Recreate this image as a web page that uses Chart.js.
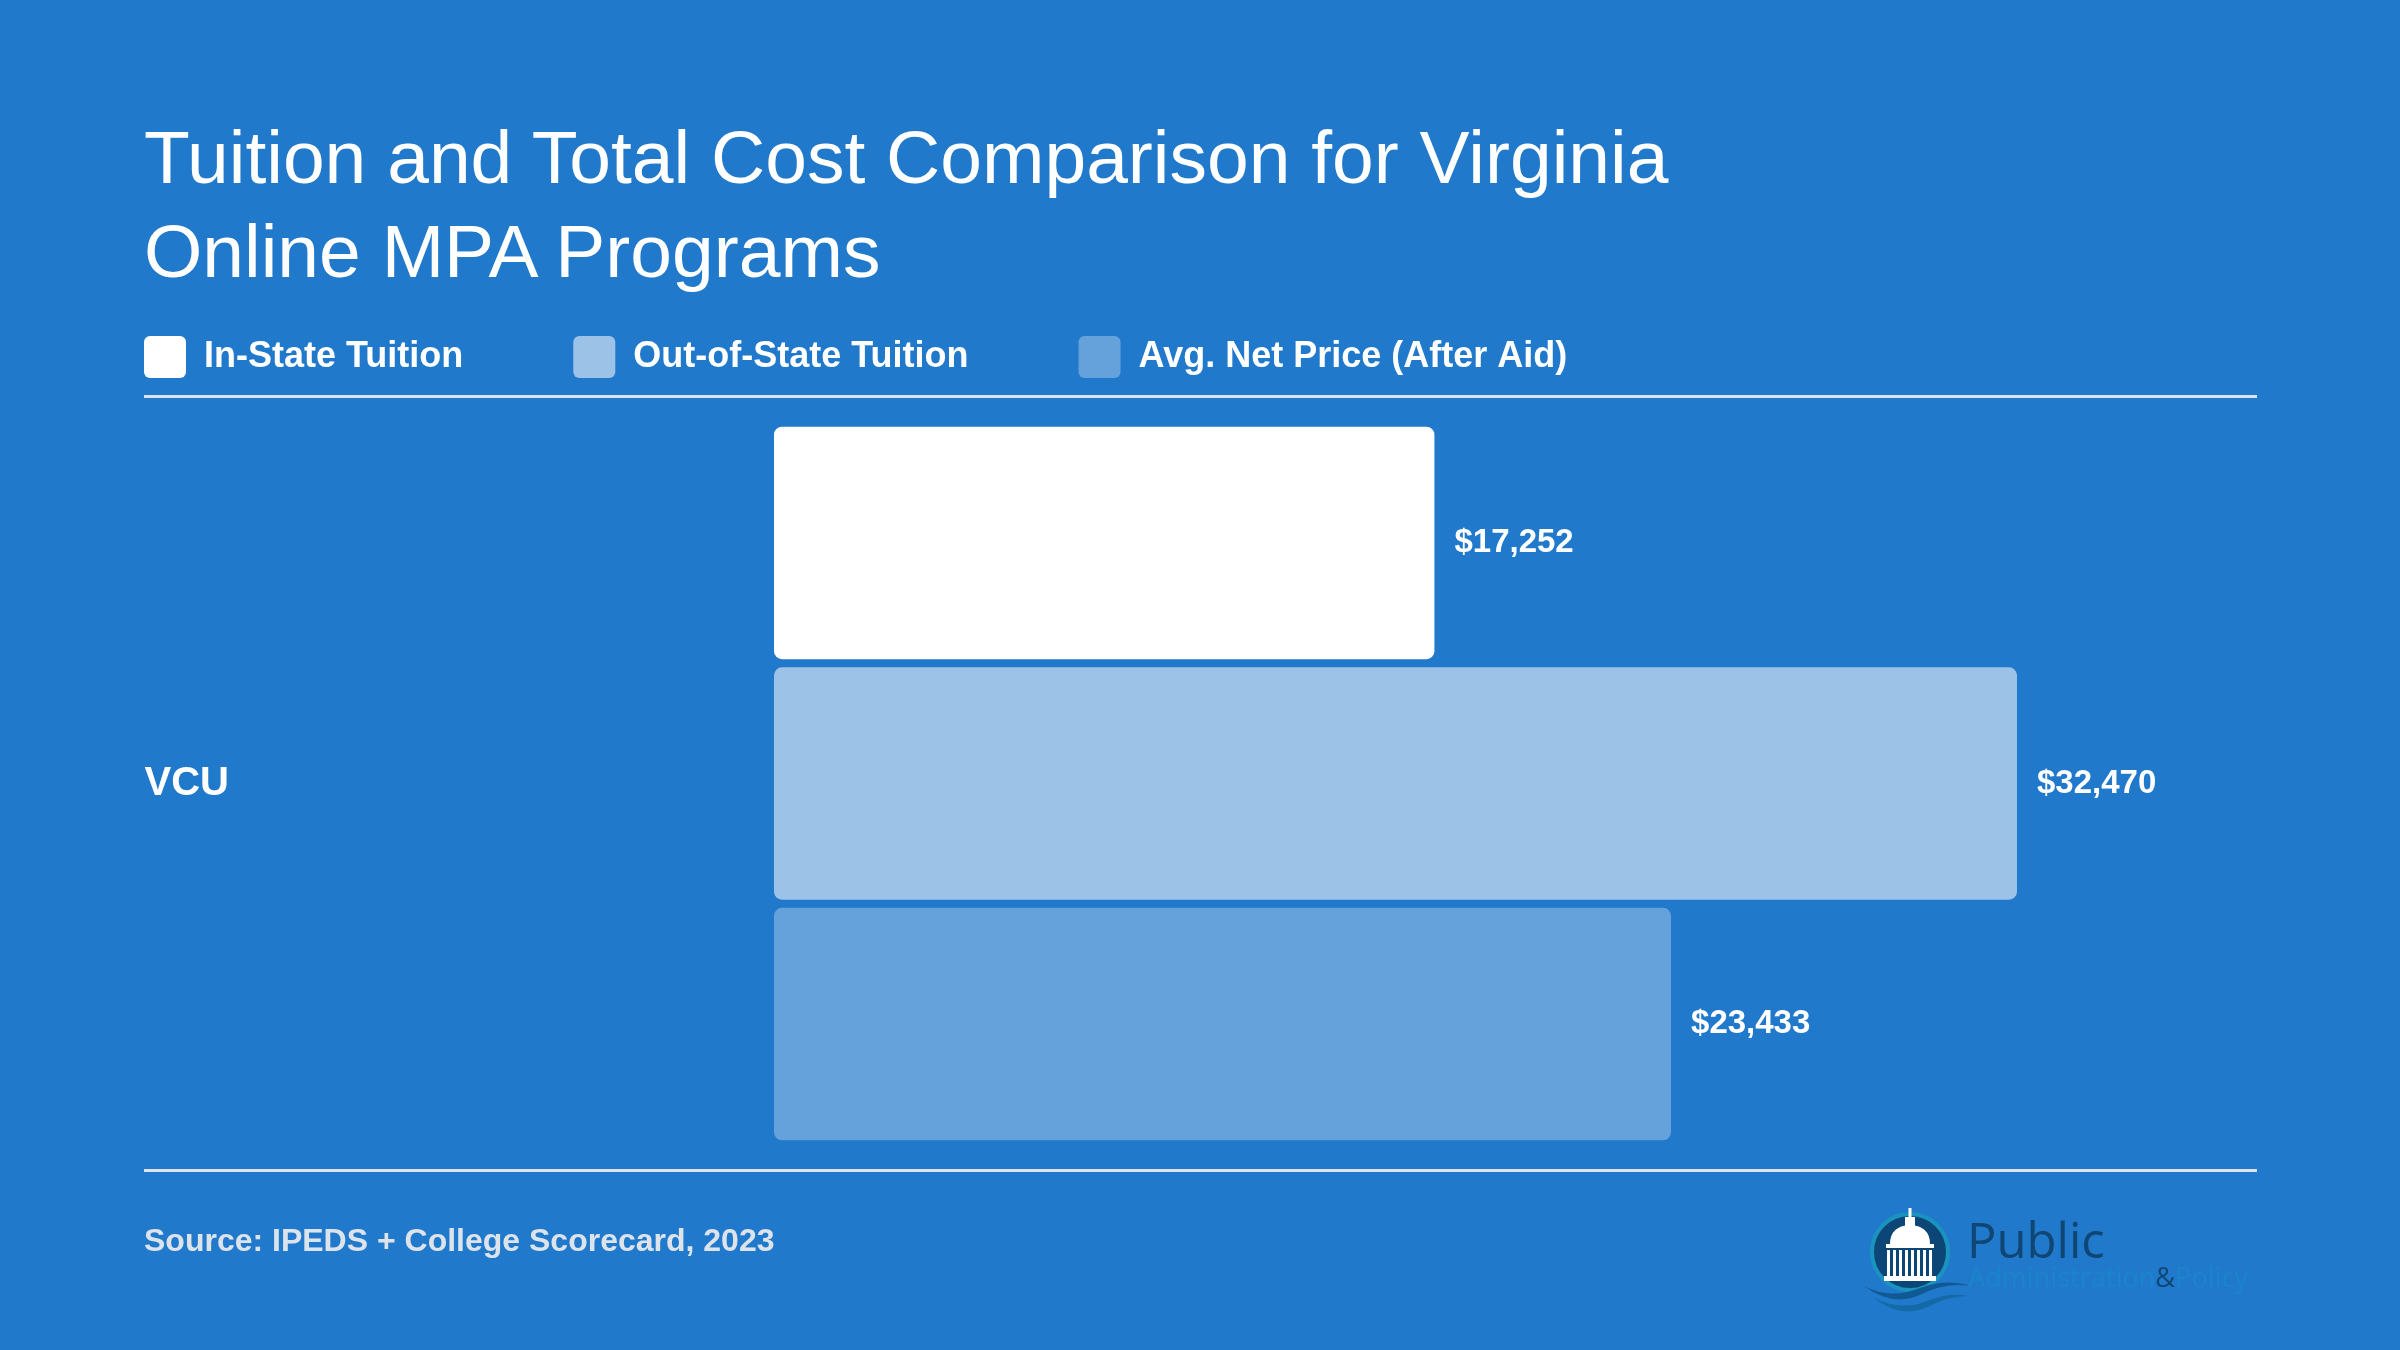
<!DOCTYPE html>
<html>
<head>
<meta charset="utf-8">
<title>Tuition and Total Cost Comparison for Virginia Online MPA Programs</title>
<script src="https://cdn.jsdelivr.net/npm/chart.js@4.4.1/dist/chart.umd.min.js"></script>
<style>
  html, body { margin: 0; padding: 0; background: #2179cc; }
  body {
    width: 2400px; height: 1350px; position: relative; overflow: hidden;
    font-family: "Liberation Sans", Arial, sans-serif;
  }
  #costChart { position: absolute; left: 0; top: 0; }
  h1 {
    position: absolute; left: 144px; top: 110px; margin: 0;
    font-size: 75px; line-height: 94px; font-weight: normal; color: #fff;
  }
  .source {
    position: absolute; left: 144px; top: 1220px; margin: 0;
    font-size: 32px; line-height: 40px; font-weight: bold; color: #dde3ea;
  }
  .logo { position: absolute; left: 1850px; top: 1190px; }
</style>
</head>
<body>
<h1>Tuition and Total Cost Comparison for Virginia<br>Online MPA Programs</h1>
<canvas id="costChart" width="2400" height="1350"></canvas>
<p class="source">Source: IPEDS + College Scorecard, 2023</p>

<svg class="logo" width="420" height="140" viewBox="0 0 420 140">
  <circle cx="60" cy="62" r="38" fill="#0b4676" stroke="#1a93bf" stroke-width="4"/>
  <!-- capitol -->
  <rect x="58.5" y="18" width="3" height="10" fill="#fff"/>
  <rect x="55" y="27" width="10" height="9" fill="#fff"/>
  <path d="M40 54 Q40 36 60 35 Q80 36 80 54 Z" fill="#fff"/>
  <rect x="36" y="54" width="48" height="4" fill="#fff"/>
  <g fill="#fff">
    <rect x="37" y="60" width="3" height="26"/>
    <rect x="43" y="60" width="3" height="26"/>
    <rect x="49" y="60" width="3" height="26"/>
    <rect x="55" y="60" width="3" height="26"/>
    <rect x="61" y="60" width="3" height="26"/>
    <rect x="67" y="60" width="3" height="26"/>
    <rect x="73" y="60" width="3" height="26"/>
    <rect x="79" y="60" width="3" height="26"/>
  </g>
  <rect x="34" y="86" width="52" height="5" fill="#fff"/>
  <!-- waves -->
  <path d="M14 96 Q40 110 70 98 Q95 88 122 96 Q95 92 72 104 Q44 118 14 96 Z" fill="#0f5a92"/>
  <path d="M24 108 Q52 122 80 110 Q100 102 118 106 Q98 106 80 116 Q52 130 24 108 Z" fill="#136aa6"/>
  <text x="117" y="68" font-family="'Open Sans', sans-serif" font-size="49" fill="#0f4673">Public</text>
  <text x="118" y="97" font-family="'Open Sans', sans-serif" font-size="28" textLength="280" lengthAdjust="spacingAndGlyphs"><tspan fill="#1a84cc">Administration</tspan><tspan fill="#0f4673">&amp;</tspan><tspan fill="#1a84cc">Policy</tspan></text>
</svg>

<script>
const categories = ['VCU'];
const seriesNames = ['In-State Tuition', 'Out-of-State Tuition', 'Avg. Net Price (After Aid)'];
const inStateTuition = [17252];
const outOfStateTuition = [32470];
const avgNetPrice = [23433];
const seriesColors = ['#ffffff', '#9cc2e7', '#65a2db'];

const FONT = '"Liberation Sans", Arial, sans-serif';
const LEFT_EDGE = 144;

Chart.defaults.font.family = FONT;
Chart.defaults.color = '#ffffff';

// thin rules above and below the bars, full content width
const frameLines = {
    id: 'frameLines',
    beforeDraw(chart) {
        const { ctx, chartArea } = chart;
        ctx.save();
        ctx.fillStyle = '#dde3ea';
        ctx.fillRect(LEFT_EDGE, chartArea.top - 3, chartArea.right - LEFT_EDGE, 3);
        ctx.fillRect(LEFT_EDGE, chartArea.bottom, chartArea.right - LEFT_EDGE, 3);
        ctx.restore();
    }
};

// dollar values at the end of each bar
const valueLabels = {
    id: 'valueLabels',
    afterDatasetsDraw(chart) {
        const { ctx } = chart;
        ctx.save();
        ctx.font = 'bold 33px ' + FONT;
        ctx.fillStyle = '#ffffff';
        ctx.textAlign = 'left';
        ctx.textBaseline = 'middle';
        chart.data.datasets.forEach((ds, i) => {
            chart.getDatasetMeta(i).data.forEach((bar, j) => {
                ctx.fillText('$' + ds.data[j].toLocaleString('en-US'), bar.x + 20, bar.y);
            });
        });
        ctx.restore();
    }
};

const seriesData = [inStateTuition, outOfStateTuition, avgNetPrice];

new Chart(document.getElementById('costChart'), {
    type: 'bar',
    data: {
        labels: categories,
        datasets: seriesNames.map((name, i) => ({
            label: name,
            data: seriesData[i],
            backgroundColor: seriesColors[i],
            borderWidth: 0,
            borderRadius: 8,
            borderSkipped: false,
            barPercentage: 0.966,
            categoryPercentage: 0.936
        }))
    },
    options: {
        indexAxis: 'y',
        responsive: false,
        animation: false,
        layout: {
            padding: { top: 226, left: 34, right: 143, bottom: 181 }
        },
        scales: {
            x: {
                position: 'top',
                min: 0,
                max: 38740,
                grid: { display: false, drawTicks: false },
                border: { display: false },
                ticks: { display: false },
                afterFit(scale) { scale.height = 10; }
            },
            y: {
                grid: { display: false, drawTicks: false },
                border: { display: false },
                ticks: {
                    color: '#ffffff',
                    crossAlign: 'near',
                    padding: 545,
                    font: { size: 40, weight: 'bold' }
                },
                afterFit(scale) {
                    // the big label padding should only push the text left, not shrink the plot
                    scale.width = 740;
                    scale.paddingTop = 0;
                    scale.paddingBottom = 0;
                }
            }
        },
        plugins: {
            legend: {
                position: 'top',
                align: 'start',
                labels: {
                    boxWidth: 42,
                    boxHeight: 42,
                    padding: 110,
                    useBorderRadius: true,
                    borderRadius: 6,
                    color: '#ffffff',
                    font: { size: 36, weight: 'bold' }
                }
            },
            tooltip: { enabled: false }
        }
    },
    plugins: [frameLines, valueLabels]
});
</script>
</body>
</html>
